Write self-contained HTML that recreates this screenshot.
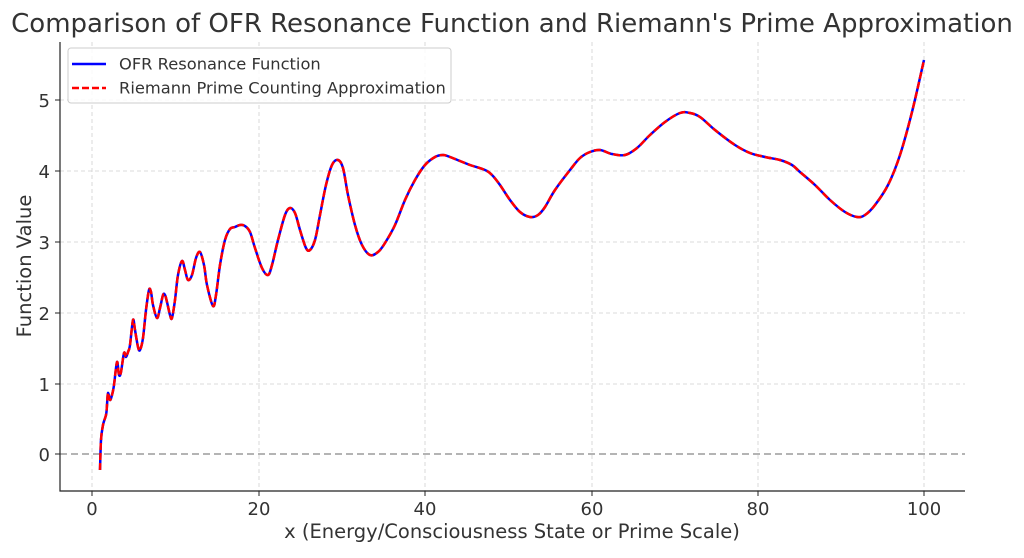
<!DOCTYPE html>
<html><head><meta charset="utf-8"><style>
body{margin:0;background:#fff;}
svg text{font-family:"DejaVu Sans","Liberation Sans",sans-serif;fill:#333;}
</style></head><body>
<svg width="1024" height="553" viewBox="0 0 1024 553" xmlns="http://www.w3.org/2000/svg">
<rect width="1024" height="553" fill="#fff"/>
<text x="512" y="32" font-size="26" text-anchor="middle">Comparison of OFR Resonance Function and Riemann's Prime Approximation</text>
<g stroke="#cfcfcf" stroke-width="0.8" stroke-dasharray="4,3">
<line x1="92" y1="42" x2="92" y2="491"/><line x1="259" y1="42" x2="259" y2="491"/><line x1="425" y1="42" x2="425" y2="491"/><line x1="592" y1="42" x2="592" y2="491"/><line x1="758" y1="42" x2="758" y2="491"/><line x1="924" y1="42" x2="924" y2="491"/>
<line x1="60" y1="384" x2="965" y2="384"/><line x1="60" y1="313" x2="965" y2="313"/><line x1="60" y1="242" x2="965" y2="242"/><line x1="60" y1="171" x2="965" y2="171"/><line x1="60" y1="100" x2="965" y2="100"/>
</g>
<line x1="60" y1="454" x2="965" y2="454" stroke="#aaa" stroke-width="1.8" stroke-dasharray="7,4"/>
<path d="M60 42V491H965" fill="none" stroke="#222" stroke-width="1.2"/>
<g stroke="#222"><line x1="92" y1="491" x2="92" y2="496"/><line x1="259" y1="491" x2="259" y2="496"/><line x1="425" y1="491" x2="425" y2="496"/><line x1="592" y1="491" x2="592" y2="496"/><line x1="758" y1="491" x2="758" y2="496"/><line x1="924" y1="491" x2="924" y2="496"/>
<line x1="55" y1="454" x2="60" y2="454"/><line x1="55" y1="384" x2="60" y2="384"/><line x1="55" y1="313" x2="60" y2="313"/><line x1="55" y1="242" x2="60" y2="242"/><line x1="55" y1="171" x2="60" y2="171"/><line x1="55" y1="100" x2="60" y2="100"/></g>
<g font-size="18" text-anchor="middle"><text x="92" y="515">0</text><text x="259" y="515">20</text><text x="425" y="515">40</text><text x="592" y="515">60</text><text x="758" y="515">80</text><text x="924" y="515">100</text></g>
<g font-size="18" text-anchor="end"><text x="50" y="461">0</text><text x="50" y="391">1</text><text x="50" y="320">2</text><text x="50" y="249">3</text><text x="50" y="178">4</text><text x="50" y="107">5</text></g>
<text x="512" y="538" font-size="19.5" text-anchor="middle">x (Energy/Consciousness State or Prime Scale)</text>
<text transform="translate(31,266) rotate(-90)" font-size="19.5" text-anchor="middle">Function Value</text>
<g fill="none" stroke-linejoin="round" stroke-linecap="butt">
<path id="c1" stroke="#0000ff" stroke-width="2.5"/>
<path id="c2" stroke="#ff0000" stroke-width="2.5" stroke-dasharray="7,3"/>
</g>
<rect x="68" y="48" width="383" height="55" rx="3" fill="#fff" fill-opacity="0.85" stroke="#ccc"/>
<line x1="72" y1="64" x2="106" y2="64" stroke="#0000ff" stroke-width="2.5"/>
<line x1="72" y1="88" x2="106" y2="88" stroke="#ff0000" stroke-width="2.5" stroke-dasharray="7,3"/>
<g font-size="16.3"><text x="119" y="69.5">OFR Resonance Function</text><text x="119" y="93.5">Riemann Prime Counting Approximation</text></g>
</svg>
<script>
var p=[[100,470],[101,440],[103,425],[106,415],[107,405],[108,393],[110,400],[112,395],[114,385],[117,362],[119,375],[121,372],[124,353],[126,357],[128,352],[130,345],[133,320],[135,330],[138,347],[140,350],[143,338],[146,310],[149,290],[151,292],[153,305],[157,318],[160,308],[163,295],[165,295],[167,302],[170,315],[172,318],[175,300],[178,275],[182,261],[185,270],[188,280],[192,275],[196,258],[200,252],[204,265],[207,285],[213,306],[216,295],[220,265],[225,240],[230,229],[235,227],[240,225],[245,226],[250,232],[255,248],[262,268],[268,275],[272,265],[278,240],[285,215],[290,208],[295,213],[300,230],[306,248],[310,250],[315,240],[320,215],[326,185],[332,165],[338,160],[343,168],[348,195],[355,225],[362,245],[370,255],[378,252],[385,243],[395,225],[405,200],[415,180],[425,165],[435,157],[443,155],[450,157],[460,161],[470,165],[485,170],[492,175],[500,185],[510,200],[520,212],[530,217],[538,215],[545,207],[555,190],[570,170],[580,158],[590,152],[600,150],[612,154],[625,155],[637,148],[650,135],[665,122],[680,113],[690,113],[700,117],[715,130],[735,145],[750,153],[765,157],[780,160],[792,165],[800,172],[815,185],[830,200],[845,212],[857,217],[865,215],[875,205],[888,185],[900,155],[912,112],[924,60]];
var d="M"+p[0][0]+" "+p[0][1];
for(var i=0;i<p.length-1;i++){var a=p[i>0?i-1:0],b=p[i],c=p[i+1],e=p[i+2<p.length?i+2:i+1];
d+=" C"+(b[0]+(c[0]-a[0])/6).toFixed(1)+" "+(b[1]+(c[1]-a[1])/6).toFixed(1)+" "+(c[0]-(e[0]-b[0])/6).toFixed(1)+" "+(c[1]-(e[1]-b[1])/6).toFixed(1)+" "+c[0]+" "+c[1];}
document.getElementById("c1").setAttribute("d",d);document.getElementById("c2").setAttribute("d",d);
</script>
</body></html>
